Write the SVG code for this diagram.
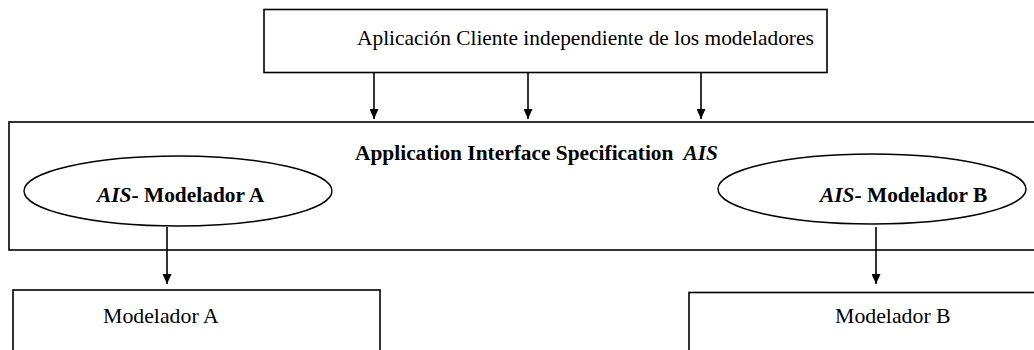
<svg xmlns="http://www.w3.org/2000/svg" width="1034" height="350" viewBox="0 0 1034 350">
  <style>
    .box { fill: #fff; stroke: #000; stroke-width: 1.6; }
    .oval { fill: #fff; stroke: #000; stroke-width: 1.4; }
    .lbl { font-family: "Liberation Serif", "Times New Roman", serif; font-size: 21.4px; fill: #000; }
    .b { font-weight: bold; }
    .i { font-style: italic; }
    .wire { stroke: #000; stroke-width: 1.6; fill: none; marker-end: url(#tip); }
  </style>
  <defs>
    <marker id="tip" markerWidth="10" markerHeight="9" refX="10" refY="4.5" orient="auto" markerUnits="userSpaceOnUse" viewBox="0 0 10 9">
      <path d="M0,0 L10,4.5 L0,9 Z" fill="#000"/>
    </marker>
  </defs>
  <rect width="1034" height="350" fill="#fff"/>

  <!-- client application -->
  <g id="client">
    <rect class="box" x="264" y="9.5" width="563" height="63"/>
    <text class="lbl" x="357" y="45">Aplicación Cliente independiente de los modeladores</text>
  </g>

  <!-- interface specification layer -->
  <g id="ais">
    <rect class="box" x="9" y="122" width="1040" height="128"/>
    <text class="lbl b" x="355" y="160">Application Interface Specification<tspan class="i" dx="10">AIS</tspan></text>
  </g>

  <g id="ais-a">
    <ellipse class="oval" cx="178" cy="191" rx="154" ry="35"/>
    <text class="lbl b" x="97" y="202"><tspan class="i">AIS</tspan>- Modelador A</text>
  </g>

  <g id="ais-b">
    <ellipse class="oval" cx="872" cy="189" rx="154" ry="35"/>
    <text class="lbl b" x="820" y="202"><tspan class="i">AIS</tspan>- Modelador B</text>
  </g>

  <!-- modelers -->
  <g id="mod-a">
    <rect class="box" x="13" y="290" width="367" height="80"/>
    <text class="lbl" x="103" y="323" style="font-size:21.8px">Modelador A</text>
  </g>

  <g id="mod-b">
    <rect class="box" x="689" y="292.5" width="360" height="80"/>
    <text class="lbl" x="835" y="323" style="font-size:21.8px">Modelador B</text>
  </g>

  <!-- connectors -->
  <g id="connectors">
    <line class="wire" x1="374" y1="73" x2="374" y2="119"/>
    <line class="wire" x1="528" y1="73" x2="528" y2="119"/>
    <line class="wire" x1="701" y1="73" x2="701" y2="119"/>
    <line class="wire" x1="167" y1="227" x2="167" y2="284"/>
    <line class="wire" x1="876" y1="227" x2="876" y2="284"/>
  </g>
</svg>
